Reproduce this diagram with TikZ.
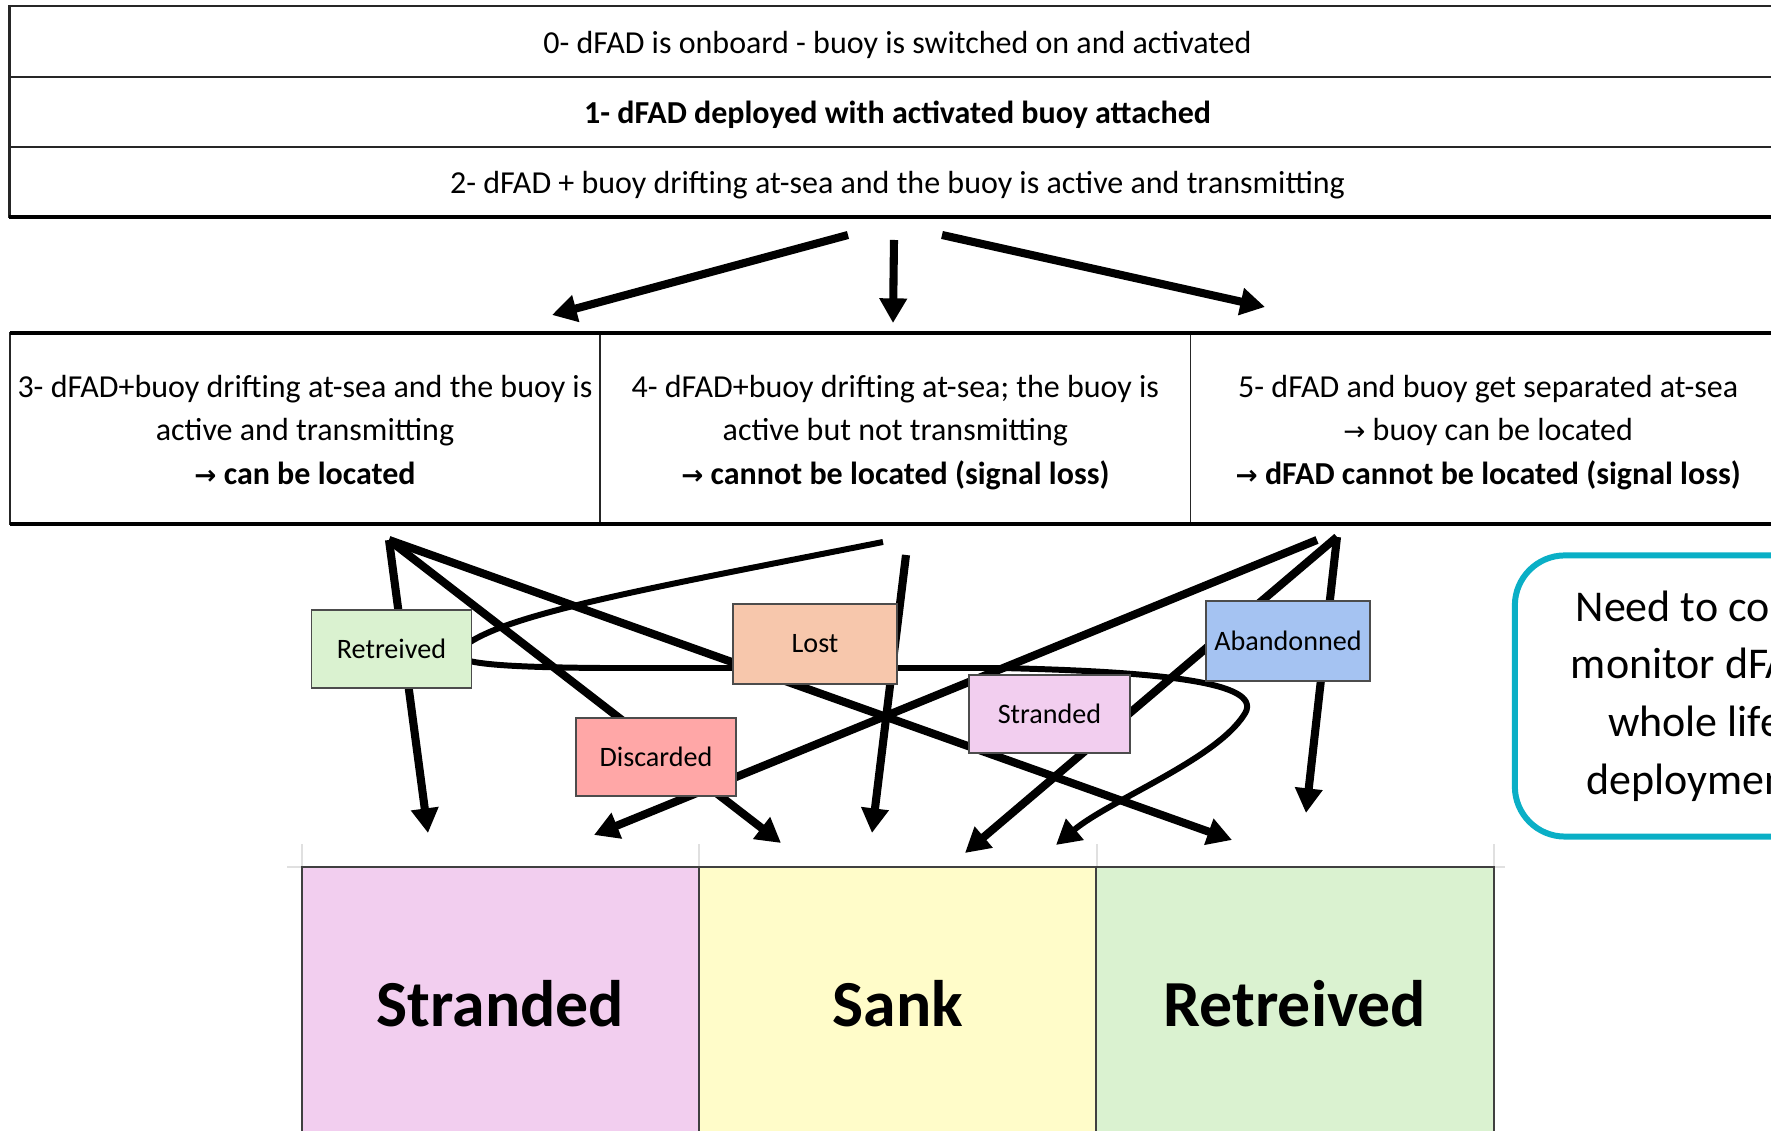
\documentclass[tikz,border=0pt]{standalone}
\usepackage{fontspec}
\setmainfont{Carlito}
\newfontfamily\arw{DejaVu Sans}
\usetikzlibrary{arrows.meta}
\usetikzlibrary{positioning}
\definecolor{retgreen}{HTML}{DAF2D0}
\definecolor{lostorange}{HTML}{F7C7AC}
\definecolor{strpink}{HTML}{F2CEEF}
\definecolor{abablue}{HTML}{A5C3F2}
\definecolor{disred}{HTML}{FFA7A7}
\definecolor{sankyellow}{HTML}{FFFCC9}
\definecolor{calloutcyan}{HTML}{0AAFC6}
\newcommand\goesto{{\arw\fontsize{7.5}{7.5}\selectfont →}}
\newcommand\topstrut[1]{\rule{0pt}{#1}}
\tikzset{
  row/.style={draw=black!85,line width=0.6pt,outer sep=0pt,inner sep=0pt,minimum width=177.5mm,minimum height=7mm,font=\fontsize{9.1}{12.4}\selectfont},
  cell/.style={draw=black!85,line width=0.5pt,outer sep=0pt,inner sep=0pt,minimum width=59mm,minimum height=19.1mm,align=center,font=\fontsize{9.1}{12.4}\selectfont},
  col/.style={draw=black!75,line width=0.6pt,outer sep=0pt,inner sep=0pt,minimum width=39.7mm,minimum height=27.3mm,font=\fontsize{18.7}{22}\selectfont\bfseries},
  tag/.style={draw=black!70,line width=0.5pt,inner sep=0pt,minimum width=16mm,minimum height=7.8mm,font=\fontsize{8}{10}\selectfont},
  flow/.style={line width=2.3pt,-{Triangle[length=7pt,width=7.5pt]}},
  gridline/.style={black!12,line width=0.5pt}
}
\begin{document}
\begin{tikzpicture}[x=0.01cm,y=-0.01cm]
\useasboundingbox (0,0) rectangle (1771,1131);
\clip (0,0) rectangle (1771,1131);
\node[row,minimum height=7.1mm](0) at (897.5,41.5){\topstrut{10.3pt}\strut 0- dFAD is onboard - buoy is switched on and activated};
\node[row,below=0pt of 0](1){\topstrut{10.3pt}\strut\bfseries 1- dFAD deployed with activated buoy attached};
\node[row,below=0pt of 1](2){\topstrut{10.3pt}\strut 2- dFAD + buoy drifting at-sea and the buoy is active and transmitting};
\draw[line width=1pt](2.south west)--(2.south east);
\node[cell](3) at (305,428.5){\topstrut{10.7pt}3- dFAD+buoy drifting at-sea and the buoy is\\active and transmitting\\\textbf{\goesto{} can be located}\strut};
\node[cell,right=0pt of 3](4){\topstrut{10.7pt}4- dFAD+buoy drifting at-sea; the buoy is\\active but not transmitting\\\textbf{\goesto{} cannot be located (signal loss)}\strut};
\node[cell,right=0pt of 4,minimum width=59.5mm](5){\topstrut{10.7pt}5- dFAD and buoy get separated at-sea\\\goesto{} buoy can be located\\\textbf{\goesto{} dFAD cannot be located (signal loss)}\strut};
\draw[line width=0.9pt](3.north west)--(5.north east);
\draw[line width=1.2pt](3.south west)--(5.south east);
\draw[gridline](287,867)--(1505,867);
\foreach \x in {302,699,1097,1494} \draw[gridline](\x,844)--(\x,867);
\node[col,fill=strpink](b1) at (500.5,1003.5){Stranded};
\node[col,fill=sankyellow,right=0pt of b1](b2){Sank};
\node[col,fill=retgreen,right=0pt of b2](b3){Retreived};
\coordinate (t1a) at (848,235); \coordinate (t1b) at (552,315);
\coordinate (t2a) at (894,240); \coordinate (t2b) at (893,323);
\coordinate (t3a) at (942,235); \coordinate (t3b) at (1265,307);
\draw[flow](t1a)--(t1b);
\draw[flow](t2a)--(t2b);
\draw[flow](t3a)--(t3b);
\coordinate (o3) at (389,540);
\coordinate (o4a) at (906,555);
\coordinate (o4b) at (883,542);
\coordinate (o5a) at (1317,540);
\coordinate (o5b) at (1337,537);
\coordinate (e1) at (428,833);
\coordinate (e2) at (781,843);
\coordinate (e3) at (1232,840);
\coordinate (e4) at (872,833);
\coordinate (e5) at (1056,845);
\coordinate (e6) at (594,835);
\coordinate (e7) at (965,853);
\coordinate (e8) at (1306,813);
\draw[flow](o3)--(e1);
\draw[flow](o3)--(e2);
\draw[flow](o3)--(e3);
\draw[flow](o4a)--(e4);
\draw[flow,line width=1.7pt](o4b) .. controls (640,590) and (500,615) .. (462,648) .. controls (445,662) and (480,667) .. (600,668) -- (1000,668) .. controls (1180,672) and (1265,685) .. (1244,715) .. controls (1215,760) and (1110,800) .. (e5);
\draw[flow](o5a)--(e6);
\draw[flow](o5b)--(e7);
\draw[flow](o5b)--(e8);
\node[tag,fill=retgreen](ret) at (391.5,649){Retreived};
\node[tag,fill=lostorange,minimum width=16.4mm,minimum height=8mm](lost) at (815,644){Lost};
\node[tag,fill=disred](dis) at (656,757){Discarded};
\node[tag,fill=strpink,minimum width=16.1mm](str) at (1049.5,714){Stranded};
\node[tag,fill=abablue,minimum width=16.4mm,minimum height=8mm](aba) at (1288,641){Abandonned};
\node[draw=calloutcyan,line width=1.7pt,rounded corners=5mm,minimum width=50.2mm,minimum height=28.1mm,align=center,font=\fontsize{12.5}{16.4}\selectfont](need) at (1766,696){Need to continuously\\monitor dFADs during\\whole life of their\\deployment periods};
\end{tikzpicture}
\end{document}
